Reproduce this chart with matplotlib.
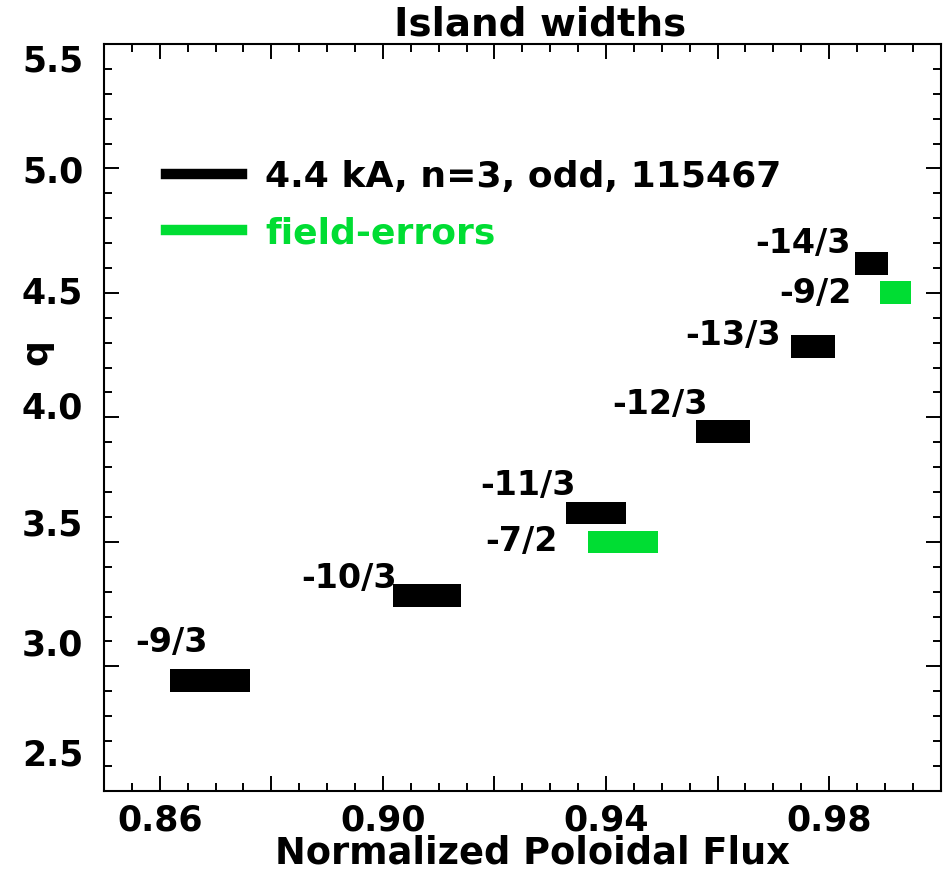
import matplotlib

matplotlib.use("Agg")
import matplotlib.pyplot as plt
from matplotlib.lines import Line2D
from matplotlib.ticker import FixedLocator, MultipleLocator
from matplotlib.transforms import ScaledTranslation

# island widths (q at bar centre, flux at bar ends)
coil_labels = ["-9/3", "-10/3", "-11/3", "-12/3", "-13/3", "-14/3"]
coil_q = [2.943, 3.284, 3.617, 3.944, 4.284, 4.619]
coil_left = [0.8618, 0.9018, 0.9328, 0.9561, 0.9731, 0.9846]
coil_right = [0.8761, 0.9140, 0.9436, 0.9658, 0.9811, 0.9906]

fe_labels = ["-7/2", "-9/2"]
fe_q = [3.500, 4.501]
fe_left = [0.9368, 0.9891]
fe_right = [0.9494, 0.9946]

legend_labels = ["4.4 kA, n=3, odd, 115467", "field-errors"]
xtick_values = [0.86, 0.88, 0.90, 0.92, 0.94, 0.96, 0.98, 1.00]
xtick_labels = ["0.86", "", "0.90", "", "0.94", "", "0.98", ""]
ytick_values = [2.5, 3.0, 3.5, 4.0, 4.5, 5.0, 5.5]
ytick_labels = ["2.5", "3.0", "3.5", "4.0", "4.5", "5.0", "5.5"]

# layout tweaks (pixels): label placement relative to bar left end / centre
coil_text_dx = [38, 4, 10, 12, -10, -4]
coil_text_dy = [28, 8, 18, 17, 2, 10]
fe_text_dx = [-31, -28]
fe_text_dy = [-9, -10]
ytick_shift_px = [39, 24, 20, 12, 3, -1, -14]  # the original's labels drift off their ticks

BLACK = "black"
GREEN = "#00dd33"
BAR_H = 0.09

plt.rcParams["font.family"] = ["DejaVu Sans"]
plt.rcParams["font.weight"] = "bold"

fig = plt.figure(figsize=(9.48, 8.72), dpi=100)
ax = fig.add_axes([0.1097, 0.0932, 0.8826, 0.8563])

coil_w = [r - l for l, r in zip(coil_left, coil_right)]
fe_w = [r - l for l, r in zip(fe_left, fe_right)]
ax.barh(coil_q, coil_w, left=coil_left, height=BAR_H, color=BLACK, linewidth=0)
ax.barh(fe_q, fe_w, left=fe_left, height=BAR_H, color=GREEN, linewidth=0)

for lab, x, q, dx, dy in zip(coil_labels, coil_left, coil_q, coil_text_dx, coil_text_dy):
    ax.annotate(lab, xy=(x, q), xytext=(dx, dy), textcoords="offset pixels",
                ha="right", va="baseline", fontsize=24, fontweight="bold")
for lab, x, q, dx, dy in zip(fe_labels, fe_left, fe_q, fe_text_dx, fe_text_dy):
    ax.annotate(lab, xy=(x, q), xytext=(dx, dy), textcoords="offset pixels",
                ha="right", va="baseline", fontsize=24, fontweight="bold")

ax.set_xlim(0.85, 1.0)
ax.set_ylim(2.5, 5.5)

ax.xaxis.set_major_locator(FixedLocator(xtick_values))
ax.xaxis.set_minor_locator(MultipleLocator(0.005))
ax.set_xticklabels(xtick_labels)
ax.yaxis.set_major_locator(FixedLocator(ytick_values))
ax.yaxis.set_minor_locator(MultipleLocator(0.1))
ax.set_yticklabels(ytick_labels)

ax.tick_params(which="both", direction="in", top=True, right=True, width=1.4)
ax.tick_params(which="major", length=10.5)
ax.tick_params(which="minor", length=5.5)
ax.tick_params(axis="x", which="major", pad=9, labelsize=25)
ax.tick_params(axis="y", which="major", pad=15, labelsize=25)
for sp in ax.spines.values():
    sp.set_linewidth(1.5)

for tick, shift in zip(ax.yaxis.get_major_ticks(), ytick_shift_px):
    lbl = tick.label1
    lbl.set_transform(lbl.get_transform() + ScaledTranslation(0, shift / 100, fig.dpi_scale_trans))

ax.set_title("Island widths", fontsize=28, fontweight="bold", x=0.521, pad=6.5)
ax.set_xlabel("Normalized Poloidal Flux", fontsize=26.5, fontweight="bold")
ax.xaxis.set_label_coords(0.512, -0.0968)
ax.xaxis.label.set_va("baseline")
ax.set_ylabel("q", fontsize=26, fontweight="bold")
ax.yaxis.set_label_coords(-0.061, 0.5875)

handles = [Line2D([], [], color=BLACK, lw=7.5), Line2D([], [], color=GREEN, lw=7.5)]
ax.legend(handles, legend_labels, loc="upper left", bbox_to_anchor=(0.0741, 0.8446),
          frameon=False, borderpad=0, borderaxespad=0, handlelength=2.1,
          handletextpad=0.65, labelspacing=0.61, labelcolor="linecolor",
          prop={"size": 26, "weight": "bold"})

fig.savefig("out.png", dpi=100)
